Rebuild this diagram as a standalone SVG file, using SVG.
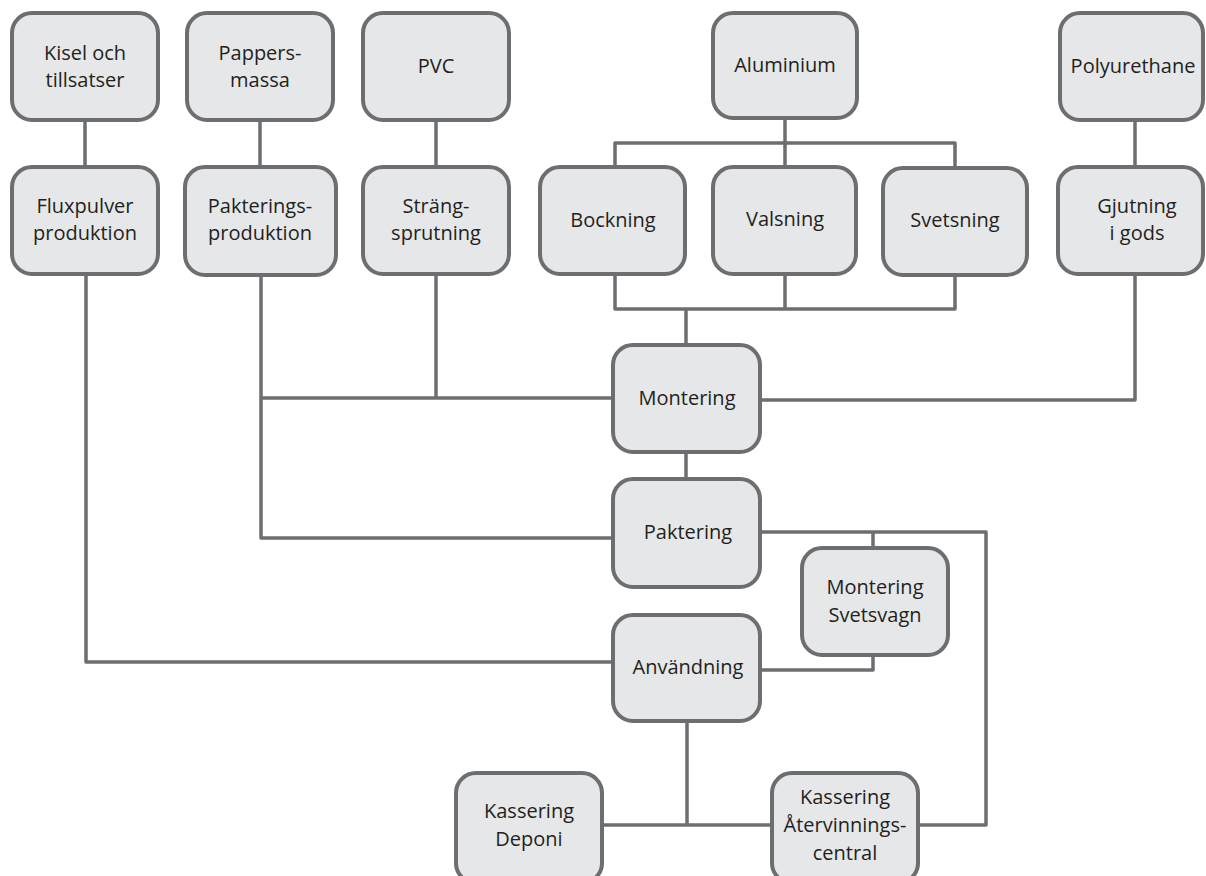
<svg xmlns="http://www.w3.org/2000/svg" width="1206" height="876" viewBox="0 0 1206 876">
<style>
.box{fill:#e6e7e9;stroke:#6d6e71;stroke-width:4}
.c{fill:none;stroke:#6d6e71;stroke-width:3.5;stroke-linejoin:round;stroke-linecap:butt}
text{font-family:"Open Sans","Liberation Sans",sans-serif;font-size:20px;fill:#231f20;text-anchor:middle}
</style>
<rect width="1206" height="876" fill="#ffffff"/>
<g id="connectors">
<path class="c" d="M85 120V167"/>
<path class="c" d="M260 120V167"/>
<path class="c" d="M436 120V167"/>
<path class="c" d="M1135 120V167"/>
<path class="c" d="M785 118V167"/>
<path class="c" d="M615 167V143H955V167"/>
<path class="c" d="M615 274V309H955V274"/>
<path class="c" d="M785 274V309"/>
<path class="c" d="M686 309V345"/>
<path class="c" d="M613 398H261"/>
<path class="c" d="M261 275V538H613"/>
<path class="c" d="M436 274V398"/>
<path class="c" d="M760 400H1135V274"/>
<path class="c" d="M686 452V479"/>
<path class="c" d="M760 532H986V825H918"/>
<path class="c" d="M873 532V548"/>
<path class="c" d="M873 655V670H760"/>
<path class="c" d="M86 274V662H613"/>
<path class="c" d="M687 721V825"/>
<path class="c" d="M602 825H772"/>
</g>
<g id="kisel"><rect class="box" x="12" y="13" width="146" height="107" rx="20"/><text x="85" y="60">Kisel och</text><text x="85" y="87">tillsatser</text></g>
<g id="pappers"><rect class="box" x="187" y="13" width="146" height="107" rx="20"/><text x="260" y="60">Pappers-</text><text x="260" y="87">massa</text></g>
<g id="pvc"><rect class="box" x="363" y="13" width="146" height="107" rx="20"/><text x="436" y="73">PVC</text></g>
<g id="aluminium"><rect class="box" x="713" y="13" width="144" height="105" rx="20"/><text x="785" y="72">Aluminium</text></g>
<g id="polyurethane"><rect class="box" x="1060" y="13" width="143" height="107" rx="20"/><text x="1133" y="73">Polyurethane</text></g>
<g id="fluxpulver"><rect class="box" x="12" y="167" width="146" height="107" rx="20"/><text x="85" y="213">Fluxpulver</text><text x="85" y="240">produktion</text></g>
<g id="pakterings"><rect class="box" x="185" y="167" width="151" height="108" rx="20"/><text x="260" y="213">Pakterings-</text><text x="260" y="240">produktion</text></g>
<g id="strang"><rect class="box" x="363" y="167" width="146" height="107" rx="20"/><text x="436" y="213">Sträng-</text><text x="436" y="240">sprutning</text></g>
<g id="bockning"><rect class="box" x="540" y="167" width="145" height="107" rx="20"/><text x="613" y="227">Bockning</text></g>
<g id="valsning"><rect class="box" x="713" y="167" width="143" height="107" rx="20"/><text x="785" y="226">Valsning</text></g>
<g id="svetsning"><rect class="box" x="883" y="168" width="144" height="107" rx="20"/><text x="955" y="227">Svetsning</text></g>
<g id="gjutning"><rect class="box" x="1058" y="167" width="145" height="107" rx="20"/><text x="1137" y="213">Gjutning</text><text x="1137" y="240">i gods</text></g>
<g id="montering"><rect class="box" x="613" y="345" width="147" height="107" rx="20"/><text x="687" y="405">Montering</text></g>
<g id="paktering"><rect class="box" x="613" y="479" width="147" height="108" rx="20"/><text x="688" y="539">Paktering</text></g>
<g id="montering-svetsvagn"><rect class="box" x="802" y="548" width="146" height="107" rx="20"/><text x="875" y="594">Montering</text><text x="875" y="622">Svetsvagn</text></g>
<g id="anvandning"><rect class="box" x="613" y="615" width="147" height="106" rx="20"/><text x="688" y="674">Användning</text></g>
<g id="deponi"><rect class="box" x="456" y="773" width="146" height="110" rx="20"/><text x="529" y="818">Kassering</text><text x="529" y="846">Deponi</text></g>
<g id="atervinning"><rect class="box" x="772" y="773" width="146" height="110" rx="20"/><text x="845" y="804">Kassering</text><text x="845" y="832">Återvinnings-</text><text x="845" y="860">central</text></g>
</svg>
